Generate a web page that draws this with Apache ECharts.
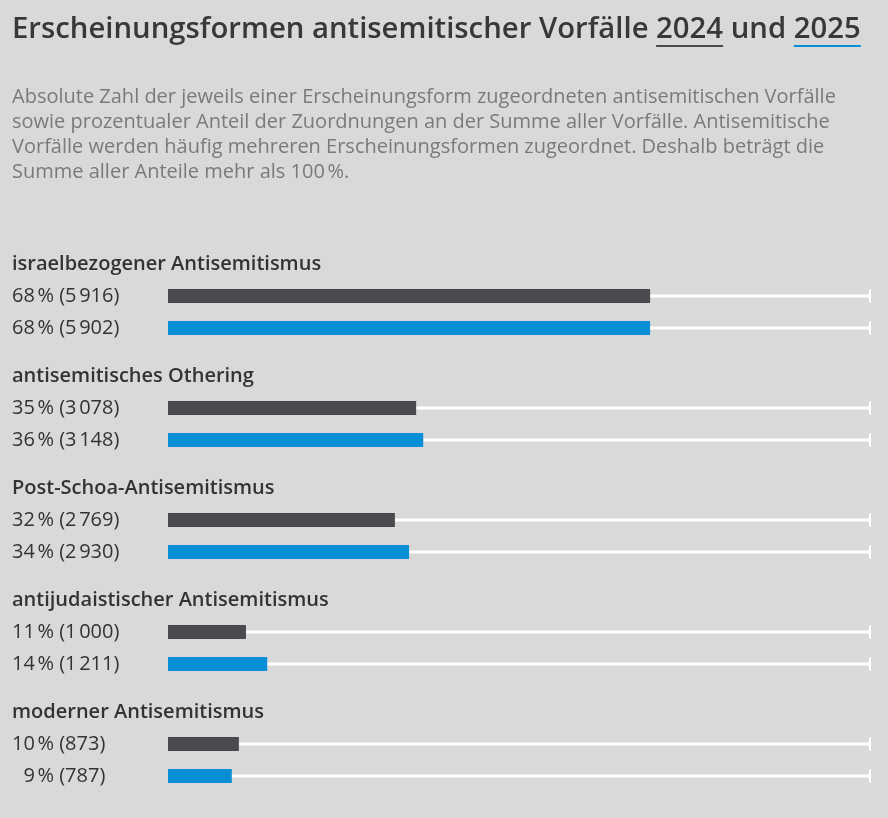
<!DOCTYPE html>
<html>
<head>
<meta charset="utf-8">
<script src="https://cdn.jsdelivr.net/npm/echarts@6/dist/echarts.min.js"></script>
<style>
html, body { margin: 0; padding: 0; background: #d9d9d9; }
#main { width: 888px; height: 818px; }
</style>
</head>
<body>
<div id="main"></div>
<script>
// Daten
var categories = ['israelbezogener Antisemitismus', 'antisemitisches Othering', 'Post-Schoa-Antisemitismus', 'antijudaistischer Antisemitismus', 'moderner Antisemitismus'];
var pct2024 = [68, 35, 32, 11, 10];
var count2024 = [5916, 3078, 2769, 1000, 873];
var pct2025 = [68, 36, 34, 14, 9];
var count2025 = [5902, 3148, 2930, 1211, 787];

var titleText = 'Erscheinungsformen antisemitischer Vorfälle ';
var subtitleLines = [
    'Absolute Zahl der jeweils einer Erscheinungsform zugeordneten antisemitischen Vorfälle',
    'sowie prozentualer Anteil der Zuordnungen an der Summe aller Vorfälle. Antisemitische',
    'Vorfälle werden häufig mehreren Erscheinungsformen zugeordnet. Deshalb beträgt die',
    'Summe aller Anteile mehr als 100\u202f%.'
];

var colors = ['#4a4b4f', '#0a8fd6'];
var FONT = '"Open Sans", "Noto Sans", sans-serif';
var trackMax = 99;

function fmtCount(n) {
    var s = String(n);
    if (s.length > 3) s = s.slice(0, s.length - 3) + '\u202f' + s.slice(s.length - 3);
    return s;
}
function fmtLabel(p, n) {
    var pre = p < 10 ? '\u2007' : '';
    return pre + p + '\u202f% (' + fmtCount(n) + ')';
}

(function () {
    // Textbreite fuer die Unterstreichung messen
    var ctx = document.createElement('canvas').getContext('2d');
    var titleFont = '600 29.3px ' + FONT;
    ctx.font = titleFont;
    var wPre = ctx.measureText(titleText).width;
    var w2024 = ctx.measureText('2024').width;
    var wUnd = ctx.measureText(' und ').width;
    var w2025 = ctx.measureText('2025').width;

    var chart = echarts.init(document.getElementById('main'));

    var grids = [], xAxes = [], yAxes = [], series = [];
    var graphics = [
        {
            type: 'text', x: 12, y: 30,
            style: { text: titleText + '2024 und 2025', font: titleFont, fill: '#38383b', textVerticalAlign: 'middle' }
        },
        { type: 'rect', shape: { x: 12 + wPre, y: 45, width: w2024, height: 2 }, style: { fill: colors[0] } },
        { type: 'rect', shape: { x: 12 + wPre + w2024 + wUnd, y: 45, width: w2025, height: 2 }, style: { fill: colors[1] } }
    ];
    for (var l = 0; l < subtitleLines.length; l++) {
        graphics.push({
            type: 'text', x: 12, y: 97 + l * 25,
            style: { text: subtitleLines[l], font: '20px ' + FONT, fill: '#7a7a7a', textVerticalAlign: 'middle' }
        });
    }

    for (var i = 0; i < categories.length; i++) {
        var gTop = 280 + 112 * i;
        graphics.push({
            type: 'text', x: 12, y: gTop - 16,
            style: { text: categories[i], font: '600 20px ' + FONT, fill: '#333336', textVerticalAlign: 'middle' }
        });
        grids.push({ left: 168, top: gTop, width: 709, height: 64 });
        xAxes.push({ type: 'value', gridIndex: i, min: 0, max: 100, show: false });
        yAxes.push({
            type: 'category', gridIndex: i, inverse: true,
            data: [fmtLabel(pct2024[i], count2024[i]), fmtLabel(pct2025[i], count2025[i])],
            axisLine: { show: false }, axisTick: { show: false },
            axisLabel: { margin: 156, align: 'left', fontSize: 20, color: '#333336', fontFamily: FONT }
        });
        // weisse Hintergrundlinie
        series.push({
            type: 'custom', xAxisIndex: i, yAxisIndex: i, silent: true, z: 1,
            encode: { x: 0, y: 1 },
            data: [[trackMax, 0], [trackMax, 1]],
            renderItem: function (params, api) {
                var start = api.coord([0, api.value(1)]);
                var end = api.coord([api.value(0), api.value(1)]);
                return {
                    type: 'group',
                    children: [
                        { type: 'line', shape: { x1: start[0], y1: start[1], x2: end[0], y2: end[1] }, style: { stroke: '#ffffff', lineWidth: 3 } },
                        { type: 'line', shape: { x1: end[0], y1: end[1] - 6.5, x2: end[0], y2: end[1] + 6.5 }, style: { stroke: '#ffffff', lineWidth: 2 } }
                    ]
                };
            }
        });
        series.push({
            type: 'bar', xAxisIndex: i, yAxisIndex: i, silent: true, z: 3,
            barWidth: 14,
            data: [
                { value: pct2024[i], itemStyle: { color: colors[0] } },
                { value: pct2025[i], itemStyle: { color: colors[1] } }
            ]
        });
    }

    chart.setOption({
        backgroundColor: '#d9d9d9',
        animation: false,
        grid: grids,
        xAxis: xAxes,
        yAxis: yAxes,
        graphic: graphics,
        series: series
    });
})();
</script>
</body>
</html>
